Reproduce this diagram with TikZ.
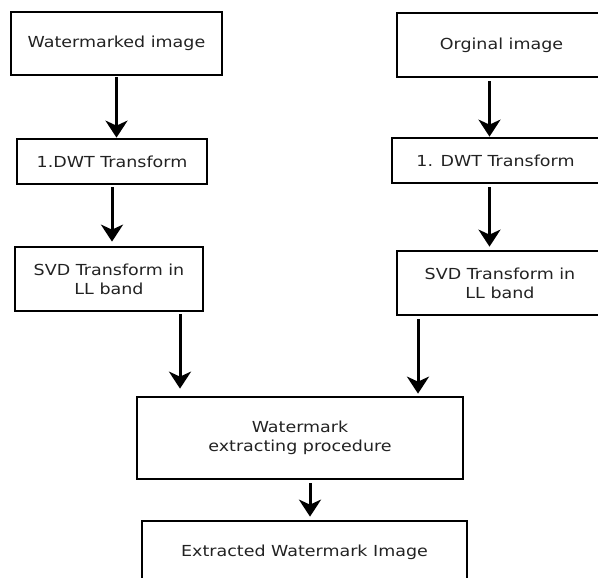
\documentclass[tikz,border=0pt]{standalone}
\usepackage{fontspec}
\setmainfont{DejaVu Sans}[FakeStretch=1.15]
\usepackage{tikz}
\usetikzlibrary{arrows.meta}
\definecolor{txtgray}{HTML}{222222}

\begin{document}
\begin{tikzpicture}
				[x=1pt,y=-1pt,
				blk/.style={draw,line width=2.7pt,inner sep=0pt,align=center,text=txtgray,
					font=\fontsize{15.2}{18.8}\selectfont},
				arr/.style={line width=3pt,-{Stealth[length=17pt,width=22pt,inset=5pt]}}]
				\useasboundingbox (0,0) rectangle (598,578);
				\clip (0,0) rectangle (598,578);
				\node[blk,minimum width=211pt,minimum height=63pt] (wmimg) at (116.5,43.5) {Watermarked image};
				\node[blk,minimum width=190pt,minimum height=45pt] (dwtl) at (112,161.5) {1.DWT Transform};
				\node[blk,minimum width=188pt,minimum height=64pt] (svdl) at (109,279) {SVD Transform in\\LL band};
				\node[blk,minimum width=209pt,minimum height=64pt] (orgimg) at (501.5,45) {Orginal image};
				\node[blk,minimum width=207pt,minimum height=45pt] (dwtr) at (495.5,160.5) {1. DWT Transform};
				\node[blk,minimum width=206pt,minimum height=64pt] (svdr) at (500,283) {SVD Transform in\\LL band};
				\node[blk,minimum width=326pt,minimum height=82pt] (proc) at (300,438) {Watermark\\extracting procedure};
				\node[blk,minimum width=325pt,minimum height=62pt] (outimg) at (304.5,552) {Extracted Watermark Image};
				\draw[arr,shorten <=1pt] (wmimg.south) -- (wmimg.south |- dwtl.north);
				\draw[arr,shorten <=2pt,shorten >=4pt] (dwtl.south) -- (dwtl.south |- svdl.north);
				\draw[arr,shorten <=2pt,shorten >=7pt] ([xshift=71pt]svdl.south) -- ([xshift=71pt]svdl.south |- proc.north);
				\draw[arr,shorten <=3pt] ([xshift=-12pt]orgimg.south) -- ([xshift=-12pt]orgimg.south |- dwtr.north);
				\draw[arr,shorten <=3pt,shorten >=3pt] ([xshift=-6pt]dwtr.south) -- ([xshift=-6pt]dwtr.south |- svdr.north);
				\draw[arr,shorten <=3pt,shorten >=2pt] ([xshift=-82pt]svdr.south) -- ([xshift=-82pt]svdr.south |- proc.north);
				\draw[arr,shorten <=3pt,shorten >=3pt] ([xshift=10pt]proc.south) -- ([xshift=10pt]proc.south |- outimg.north);
\end{tikzpicture}
\end{document}
